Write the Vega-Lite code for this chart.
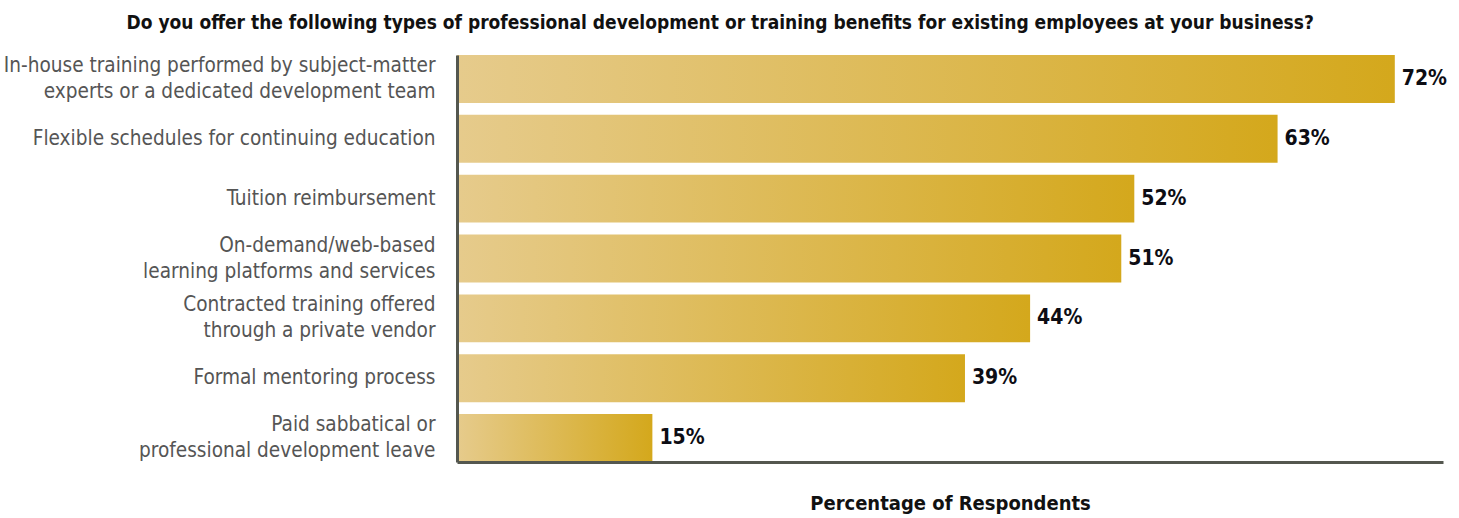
{
  "$schema": "https://vega.github.io/schema/vega-lite/v6.json",
  "autosize": {"type": "none"},
  "padding": {"left": 457, "top": 55, "right": 16, "bottom": 56},
  "width": 986,
  "height": 407,
  "background": "white",
  "title": {
    "text": "Do you offer the following types of professional development or training benefits for existing employees at your business?",
    "anchor": "middle",
    "frame": "bounds",
    "font": "DejaVu Sans Condensed",
    "fontSize": 19,
    "fontWeight": "bold",
    "color": "#111111",
    "offset": 22,
    "dx": -5
  },
  "data": {
    "values": [
      {"label": "In-house training performed by subject-matter|experts or a dedicated development team", "pct": 0.72},
      {"label": "Flexible schedules for continuing education", "pct": 0.63},
      {"label": "Tuition reimbursement", "pct": 0.52},
      {"label": "On-demand/web-based|learning platforms and services", "pct": 0.51},
      {"label": "Contracted training offered|through a private vendor", "pct": 0.44},
      {"label": "Formal mentoring process", "pct": 0.39},
      {"label": "Paid sabbatical or|professional development leave", "pct": 0.15}
    ]
  },
  "encoding": {
    "y": {
      "field": "label",
      "type": "nominal",
      "sort": null,
      "scale": {"paddingInner": 0.2, "paddingOuter": 0},
      "axis": {
        "title": null,
        "ticks": false,
        "zindex": 1,
        "labelExpr": "split(datum.label, '|')",
        "labelFont": "DejaVu Sans Condensed",
        "labelFontSize": 20.6,
        "labelColor": "#555555",
        "labelLineHeight": 26,
        "labelPadding": 22,
        "labelLimit": 600,
        "labelOffset": {"condition": {"test": "indexof(datum.value, '|') >= 0", "value": -13}, "value": 0},
        "domainColor": "#54574f",
        "domainWidth": 3
      }
    },
    "x": {
      "field": "pct",
      "type": "quantitative",
      "scale": {"domain": [0, 0.757], "nice": false},
      "axis": {
        "title": "Percentage of Respondents",
        "titleFont": "DejaVu Sans Condensed",
        "titleFontSize": 20,
        "titleFontWeight": "bold",
        "titleColor": "#111111",
        "titlePadding": 31,
        "labels": false,
        "ticks": false,
        "grid": false,
        "zindex": 1,
        "domainColor": "#54574f",
        "domainWidth": 3
      }
    }
  },
  "layer": [
    {
      "mark": {
        "type": "bar",
        "color": {
          "gradient": "linear",
          "x1": 0, "y1": 0, "x2": 1, "y2": 0,
          "stops": [
            {"offset": 0, "color": "#e6cb8c"},
            {"offset": 1, "color": "#d4a81c"}
          ]
        }
      }
    },
    {
      "mark": {
        "type": "text",
        "align": "left",
        "baseline": "middle",
        "dx": 7,
        "font": "DejaVu Sans Condensed",
        "fontSize": 21,
        "fontWeight": "bold",
        "color": "#0d0d14"
      },
      "encoding": {
        "text": {"field": "pct", "type": "quantitative", "format": ".0%"}
      }
    }
  ],
  "config": {
    "view": {"stroke": null}
  }
}
